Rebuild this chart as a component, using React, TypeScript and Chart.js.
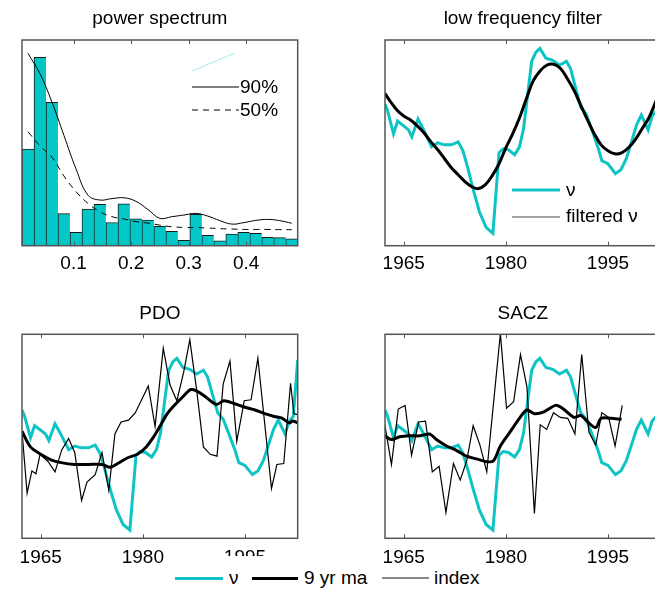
import React, { useEffect, useRef } from 'react';
import { Chart, registerables } from 'chart.js';

Chart.register(...registerables);

const FONT = '"Liberation Sans", Arial, Helvetica, sans-serif';
const CYAN = '#0EC3C3';
const FRAME = '#555555';

// ---------- power spectrum ----------
const specFreq = [0.0208, 0.0417, 0.0625, 0.0833, 0.1042, 0.125, 0.1458, 0.1667, 0.1875, 0.2083, 0.2292, 0.25, 0.2708, 0.2917, 0.3125, 0.3333, 0.3542, 0.375, 0.3958, 0.4167, 0.4375, 0.4583, 0.4792];
const specPower = [47.0, 91.6, 69.7, 15.6, 6.5, 17.8, 20.1, 11.3, 20.4, 13.1, 12.5, 9.4, 7.0, 2.6, 15.2, 5.0, 2.4, 5.7, 6.5, 6.0, 4.1, 3.9, 3.4];
const spec90 = [93.5, 83.6, 69.8, 53.6, 37.4, 24.6, 22.2, 22.9, 23.3, 21.6, 17.6, 13.3, 14.1, 14.9, 15.7, 14.4, 12.2, 10.5, 11.2, 12.3, 12.8, 12.2, 10.9];
const spec50 = [55.4, 48.5, 43.0, 33.9, 26.3, 20.6, 16.5, 14.1, 13.0, 11.7, 11.0, 10.0, 9.2, 8.9, 8.8, 8.6, 8.3, 8.1, 7.9, 7.9, 7.9, 7.8, 7.8];
const specTicks = [0.1, 0.2, 0.3, 0.4];

// ---------- time series ----------
const yearTicks = [1965, 1980, 1995];

const nuYears = [1962.25, 1962.6, 1963.5, 1964.1, 1965.0, 1965.7, 1966.2, 1967.1, 1967.8, 1968.4,
  1969.1, 1970.0, 1971.0, 1972.0, 1973.0, 1973.7, 1974.4, 1975.1, 1976.1, 1977.1,
  1978.1, 1979.0, 1979.6, 1980.4, 1981.3, 1982.0, 1982.6, 1983.3, 1983.8, 1984.4,
  1985.0, 1985.9, 1986.9, 1987.9, 1988.9, 1989.5, 1990.3, 1991.0, 1991.8, 1992.7,
  1993.6, 1994.1, 1995.0, 1996.1, 1996.9, 1997.7, 1998.5, 1999.2, 1999.9, 2000.9,
  2001.5, 2002.1, 2002.75];
const nuValues = [0.43, 0.37, 0.13, 0.26, 0.21, 0.17, 0.10, 0.28, 0.19, 0.10,
  0.00, 0.04, 0.02, 0.02, 0.05, -0.04, -0.21, -0.40, -0.65, -0.81,
  -0.87, -0.06, -0.02, -0.03, -0.08, 0.00, 0.18, 0.58, 0.86, 0.95,
  0.99, 0.89, 0.87, 0.82, 0.86, 0.79, 0.58, 0.40, 0.33, 0.16,
  -0.02, -0.14, -0.17, -0.27, -0.23, -0.12, 0.06, 0.22, 0.32, 0.17,
  0.31, 0.36, 0.97];

const filtYears = [1962.2, 1963, 1964, 1965, 1966, 1967, 1968, 1969, 1970, 1971,
  1972, 1973, 1974, 1975, 1976, 1977, 1978, 1979, 1980, 1981,
  1982, 1983, 1984, 1985, 1986, 1987, 1988, 1989, 1990, 1991,
  1992, 1993, 1994, 1995, 1996, 1997, 1998, 1999, 2000, 2001,
  2002, 2003];
const filtValues = [0.54, 0.46, 0.37, 0.31, 0.27, 0.21, 0.14, 0.05, -0.03, -0.12,
  -0.21, -0.28, -0.35, -0.40, -0.42, -0.38, -0.29, -0.17, -0.01, 0.13,
  0.29, 0.48, 0.66, 0.76, 0.82, 0.83, 0.79, 0.69, 0.57, 0.42,
  0.27, 0.13, 0.02, -0.04, -0.07, -0.06, -0.01, 0.07, 0.18, 0.29,
  0.45, 0.62];

const pdoYears = [1962.25, 1963.0, 1963.7, 1964.3, 1964.9, 1966.1, 1967.1, 1968.1, 1969.1, 1970.0,
  1971.0, 1971.8, 1973.0, 1974.0, 1975.0, 1975.9, 1976.8, 1977.9, 1978.9, 1980.8,
  1981.8, 1983.0, 1984.0, 1985.0, 1986.0, 1986.9, 1987.9, 1988.9, 1989.9, 1990.9,
  1991.8, 1992.8, 1993.8, 1994.9, 1995.9, 1996.9, 1998.9, 1999.7, 2000.7, 2001.7,
  2002.2, 2002.75];
const pdoIndex = [0.20, -0.47, -0.23, -0.26, -0.05, -0.13, -0.24, 0.00, 0.12, -0.03,
  -0.55, -0.35, -0.27, -0.03, -0.44, 0.17, 0.30, 0.32, 0.40, 0.69,
  0.25, 1.10, 0.70, 0.53, 0.84, 1.19, 0.65, 0.03, -0.05, -0.07,
  0.71, 0.96, 0.09, 0.53, 0.54, 0.99, -0.42, -0.16, -0.15, 0.72,
  0.39, 0.38];

const pdoMaYears = [1962.25, 1963.5, 1965, 1966.5, 1968, 1970, 1972, 1974, 1975.2, 1976.3,
  1977.7, 1979.2, 1980.5, 1981.6, 1982.5, 1983.5, 1984.5, 1985.7, 1987.0, 1987.8,
  1989.1, 1990.8, 1991.9, 1993.4, 1995.0, 1996.5, 1997.9, 1999.3, 2000.5, 2001.5,
  2002.0, 2002.75];
const pdoMa = [0.20, 0.03, -0.05, -0.11, -0.14, -0.16, -0.16, -0.16, -0.19, -0.15,
  -0.09, -0.05, 0.03, 0.14, 0.25, 0.38, 0.47, 0.56, 0.65, 0.64,
  0.58, 0.49, 0.53, 0.50, 0.46, 0.43, 0.39, 0.36, 0.34, 0.29,
  0.31, 0.29];

const saczYears = [1962.2, 1963.2, 1964.2, 1965.2, 1966.15, 1967.2, 1968.2, 1969.2, 1970.2, 1971.2,
  1972.3, 1973.3, 1974.25, 1975.2, 1976.2, 1977.2, 1979.2, 1980.1, 1981.15, 1982.15,
  1983.1, 1984.2, 1985.05, 1986.0, 1987.0, 1988.0, 1989.1, 1990.15, 1991.15, 1992.2,
  1993.2, 1994.1, 1995.1, 1996.05, 1997.1];
const saczIndex = [0.28, -0.16, 0.44, 0.48, -0.06, 0.30, 0.31, -0.24, -0.18, -0.68,
  -0.15, -0.33, -0.12, 0.26, 0.05, -0.24, 1.26, 0.45, 0.52, 1.03,
  0.68, -0.69, 0.27, 0.22, 0.40, 0.35, 0.34, 0.17, 1.03, 0.19,
  0.05, 0.40, 0.35, 0.04, 0.48];

const saczMaYears = [1962.2, 1963.2, 1964.4, 1965.9, 1967.4, 1968.8, 1969.8, 1971.3, 1972.8, 1974.2,
  1975.7, 1977.2, 1978.2, 1979.2, 1980.6, 1982.1, 1983.1, 1984.2, 1985.6, 1987.3,
  1988.3, 1990.0, 1991.0, 1991.9, 1993.2, 1994.0, 1995.4, 1997.0];
const saczMa = [0.15, 0.11, 0.14, 0.15, 0.15, 0.17, 0.11, 0.04, -0.01, -0.07,
  -0.10, -0.13, -0.12, 0.04, 0.19, 0.35, 0.43, 0.39, 0.41, 0.48,
  0.45, 0.35, 0.37, 0.31, 0.24, 0.34, 0.34, 0.33];

const pts = (xs: number[], ys: number[]) => xs.map((x, i) => ({ x, y: ys[i] }));

const framePlugin = {
  id: 'frame',
  afterDatasetsDraw(chart: any) {
    const { ctx, chartArea: a, scales } = chart;
    const x = scales.x;
    ctx.save();
    ctx.strokeStyle = FRAME;
    ctx.lineWidth = 1.5;
    ctx.strokeRect(a.left, a.top, a.right - a.left, a.bottom - a.top);
    ctx.lineWidth = 1;
    x.ticks.forEach((t: any) => {
      const px = Math.round(x.getPixelForValue(t.value)) + 0.5;
      ctx.beginPath();
      ctx.moveTo(px, a.top);
      ctx.lineTo(px, a.top + 4);
      ctx.moveTo(px, a.bottom);
      ctx.lineTo(px, a.bottom - 4);
      ctx.stroke();
    });
    ctx.restore();
  },
};

function baseOptions(title: string, titlePad: any, bottomPad: number, tickPad: number, xMin: number, xMax: number, ticks: number[], yMin: number, yMax: number) {
  return {
    responsive: false,
    animation: false,
    layout: { padding: { left: 22, right: 22.3, top: 0, bottom: bottomPad } },
    plugins: {
      legend: { display: false },
      tooltip: { enabled: false },
      title: {
        display: true,
        text: title,
        color: '#000',
        font: { family: FONT, size: 19, weight: 'normal' },
        padding: titlePad,
      },
    },
    scales: {
      x: {
        type: 'linear',
        min: xMin,
        max: xMax,
        offset: false,
        grid: { display: false },
        border: { display: false },
        afterBuildTicks: (s: any) => {
          s.ticks = ticks.map((v) => ({ value: v }));
        },
        afterFit: (s: any) => {
          s.height = 40;
        },
        ticks: {
          color: '#000',
          font: { family: FONT, size: 19 },
          padding: tickPad,
          maxRotation: 0,
          autoSkip: false,
          callback: (v: any) => String(v),
        },
      },
      y: { display: false, min: yMin, max: yMax },
    },
    elements: { point: { radius: 0 } },
  };
}

function ChartBox({ left, top, width, height, z, make }: any) {
  const ref = useRef<HTMLCanvasElement>(null);
  useEffect(() => {
    const chart = new Chart(ref.current as HTMLCanvasElement, make());
    return () => chart.destroy();
  }, []);
  return (
    <div style={{ position: 'absolute', left, top, width, height, zIndex: z }}>
      <canvas ref={ref} width={width} height={height} style={{ width, height, display: 'block' }} />
    </div>
  );
}

const spectrumLegend = {
  id: 'specLegend',
  afterDraw(chart: any) {
    const ctx = chart.ctx;
    ctx.save();
    ctx.strokeStyle = '#A6E8E8';
    ctx.lineWidth = 1;
    ctx.beginPath();
    ctx.moveTo(192, 71);
    ctx.lineTo(235, 53);
    ctx.stroke();
    ctx.strokeStyle = '#000';
    ctx.beginPath();
    ctx.moveTo(192, 87);
    ctx.lineTo(239, 87);
    ctx.stroke();
    ctx.setLineDash([6, 5]);
    ctx.beginPath();
    ctx.moveTo(192, 110);
    ctx.lineTo(239, 110);
    ctx.stroke();
    ctx.setLineDash([]);
    ctx.fillStyle = '#000';
    ctx.font = `19px ${FONT}`;
    ctx.textBaseline = 'middle';
    ctx.fillText('90%', 240, 88);
    ctx.fillText('50%', 240, 111);
    ctx.restore();
  },
};

const filterLegend = {
  id: 'filtLegend',
  afterDraw(chart: any) {
    const ctx = chart.ctx;
    ctx.save();
    ctx.strokeStyle = CYAN;
    ctx.lineWidth = 3;
    ctx.beginPath();
    ctx.moveTo(149, 190);
    ctx.lineTo(197, 190);
    ctx.stroke();
    ctx.strokeStyle = '#444';
    ctx.lineWidth = 1;
    ctx.beginPath();
    ctx.moveTo(149, 217);
    ctx.lineTo(197, 217);
    ctx.stroke();
    ctx.fillStyle = '#000';
    ctx.font = `19px ${FONT}`;
    ctx.textBaseline = 'middle';
    ctx.fillText('ν', 203, 191);
    ctx.fillText('filtered ν', 203, 217);
    ctx.restore();
  },
};

const makeSpectrum = () => ({
  type: 'bar',
  data: {
    datasets: [
      {
        type: 'line',
        data: pts(specFreq, spec90),
        borderColor: '#000',
        borderWidth: 1,
        tension: 0.4,
        pointRadius: 0,
        order: 1,
      },
      {
        type: 'line',
        data: pts(specFreq, spec50),
        borderColor: '#000',
        borderWidth: 1,
        borderDash: [6, 5],
        tension: 0.4,
        pointRadius: 0,
        order: 2,
      },
      {
        type: 'bar',
        data: pts(specFreq, specPower),
        backgroundColor: '#03C6C6',
        borderColor: '#1a1a1a',
        borderWidth: { top: 1, left: 1, right: 0, bottom: 0 },
        borderSkipped: false,
        barPercentage: 1,
        categoryPercentage: 1,
        order: 3,
      },
    ],
  },
  options: baseOptions('power spectrum', { top: 6.9, bottom: 10.3 }, 4.3, -1, 0.0104, 0.4896, specTicks, 0, 100),
  plugins: [framePlugin, spectrumLegend],
});

const makeFilter = () => ({
  type: 'line',
  data: {
    datasets: [
      { data: pts(filtYears, filtValues), borderColor: '#000', borderWidth: 3, tension: 0.4, pointRadius: 0, order: 1 },
      { data: pts(nuYears, nuValues), borderColor: CYAN, borderWidth: 3, tension: 0, pointRadius: 0, order: 2 },
    ],
  },
  options: baseOptions('low frequency filter', { top: 6.9, bottom: 10.3 }, 4.3, -1, 1962.25, 2002.75, yearTicks, -0.994, 1.074),
  plugins: [framePlugin, filterLegend],
});

const makeIndexPanel = (title: string, ix: number[], iv: number[], mx: number[], mv: number[]) => () => ({
  type: 'line',
  data: {
    datasets: [
      { data: pts(ix, iv), borderColor: '#000', borderWidth: 1.2, tension: 0, pointRadius: 0, order: 1 },
      { data: pts(mx, mv), borderColor: '#000', borderWidth: 3, tension: 0.3, pointRadius: 0, order: 2 },
      { data: pts(nuYears, nuValues), borderColor: CYAN, borderWidth: 3, tension: 0, pointRadius: 0, order: 3 },
    ],
  },
  options: baseOptions(title, { top: 12.6, bottom: 8.9 }, 11.7, 0, 1962.25, 2002.75, yearTicks, -0.96, 1.25),
  plugins: [framePlugin],
});

const txt: any = {
  position: 'absolute',
  fontFamily: FONT,
  fontSize: 19,
  lineHeight: '22px',
  top: 567,
  color: '#000',
  whiteSpace: 'nowrap',
};

function BottomLegend() {
  return (
    <div style={{ position: 'absolute', left: 0, top: 0, width: 655, height: 590, zIndex: 2, pointerEvents: 'none' }}>
      <div style={{ position: 'absolute', left: 168, top: 556, width: 322, height: 34, background: '#fff' }} />
      <div style={{ position: 'absolute', left: 175, top: 577, width: 48, height: 3, background: CYAN }} />
      <span style={{ ...txt, left: 229 }}>ν</span>
      <div style={{ position: 'absolute', left: 252, top: 577, width: 46, height: 3, background: '#000' }} />
      <span style={{ ...txt, left: 304 }}>9 yr ma</span>
      <div style={{ position: 'absolute', left: 382, top: 577, width: 47, height: 2, background: '#888' }} />
      <span style={{ ...txt, left: 434 }}>index</span>
    </div>
  );
}

export default function App() {
  return (
    <div style={{ position: 'absolute', left: 0, top: 0, width: 655, height: 590, overflow: 'hidden', background: '#fff' }}>
      <ChartBox left={0} top={0} width={320} height={290} z={1} make={makeSpectrum} />
      <ChartBox left={363} top={0} width={320} height={290} z={1} make={makeFilter} />
      <ChartBox left={0} top={290} width={320} height={300} z={1} make={makeIndexPanel('PDO', pdoYears, pdoIndex, pdoMaYears, pdoMa)} />
      <BottomLegend />
      <ChartBox left={363} top={290} width={320} height={300} z={3} make={makeIndexPanel('SACZ', saczYears, saczIndex, saczMaYears, saczMa)} />
    </div>
  );
}
